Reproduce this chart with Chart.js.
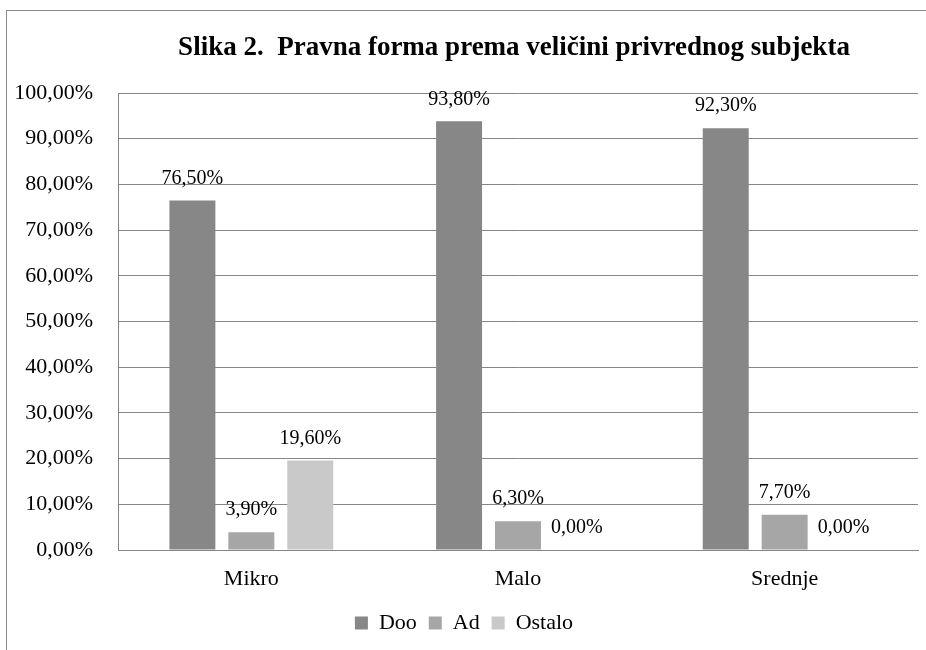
<!DOCTYPE html>
<html>
<head>
<meta charset="utf-8">
<script src="https://cdn.jsdelivr.net/npm/chart.js@4/dist/chart.umd.min.js"></script>
<style>
  html, body { margin: 0; padding: 0; background: #fff; }
  #wrap { position: relative; width: 926px; height: 650px; overflow: hidden; }
  #frame { position: absolute; left: 6px; top: 10px; width: 1000px; height: 1000px; border: 1.5px solid #8a8a8a; box-sizing: border-box; }
  #c { position: absolute; left: 0; top: 0; }
</style>
</head>
<body>
<div id="wrap">
  <div id="frame"></div>
  <canvas id="c" width="926" height="650"></canvas>
</div>
<script>
const titleText = "Slika 2.  Pravna forma prema veličini privrednog subjekta";
const categories = ["Mikro", "Malo", "Srednje"];
const seriesNames = ["Doo", "Ad", "Ostalo"];
const dooValues = [76.5, 93.8, 92.3];
const adValues = [3.9, 6.3, 7.7];
const ostaloValues = [19.6, 0.0, 0.0];
const seriesColors = ["#878787", "#a6a6a6", "#c9c9c9"];

const SERIF = "'Liberation Serif', 'Times New Roman', serif";
const fmt = v => v.toFixed(2).replace('.', ',') + '%';

const titlePlugin = {
  id: 'centerTitle',
  afterDraw(chart) {
    const ctx = chart.ctx, a = chart.chartArea;
    ctx.save();
    ctx.font = "bold 27px " + SERIF;
    ctx.fillStyle = "#000";
    ctx.textAlign = "center";
    ctx.textBaseline = "middle";
    ctx.fillText(titleText, (a.left + a.right) / 2 - 4, 48);
    ctx.restore();
  }
};

const labelPlugin = {
  id: 'valueLabels',
  afterDatasetsDraw(chart) {
    const ctx = chart.ctx;
    ctx.save();
    ctx.font = "20px " + SERIF;
    ctx.fillStyle = "#000";
    ctx.textAlign = "center";
    ctx.textBaseline = "middle";
    chart.data.datasets.forEach((ds, di) => {
      chart.getDatasetMeta(di).data.forEach((bar, i) => {
        ctx.fillText(fmt(ds.data[i]), bar.x, bar.y - 22);
      });
    });
    ctx.restore();
  }
};

new Chart(document.getElementById('c'), {
  type: 'bar',
  data: {
    labels: categories,
    datasets: [
      { label: seriesNames[0], data: dooValues, backgroundColor: seriesColors[0] },
      { label: seriesNames[1], data: adValues, backgroundColor: seriesColors[1] },
      { label: seriesNames[2], data: ostaloValues, backgroundColor: seriesColors[2] }
    ]
  },
  options: {
    responsive: false,
    animation: false,
    devicePixelRatio: 1,
    categoryPercentage: 0.663,
    barPercentage: 0.78,
    layout: { padding: { top: 93, left: 10, right: 8, bottom: 6 } },
    plugins: {
      title: { display: false },
      tooltip: { enabled: false },
      legend: {
        position: 'bottom',
        labels: {
          font: { family: SERIF, size: 22 },
          color: '#000',
          boxWidth: 13,
          boxHeight: 13,
          padding: 12
        }
      }
    },
    scales: {
      x: {
        grid: { display: false, drawTicks: false },
        border: { color: '#868686', width: 1 },
        ticks: { font: { family: SERIF, size: 22 }, color: '#000', padding: 16 },
        afterFit(s) { s.height = 50; }
      },
      y: {
        min: 0, max: 100,
        ticks: {
          stepSize: 10,
          font: { family: SERIF, size: 22 },
          color: '#000',
          padding: 25,
          callback: v => fmt(v)
        },
        grid: { color: '#868686', drawTicks: false, lineWidth: 1 },
        border: { color: '#868686', width: 1 },
        afterFit(s) { s.width = 108; }
      }
    }
  },
  plugins: [titlePlugin, labelPlugin]
});
</script>
</body>
</html>
